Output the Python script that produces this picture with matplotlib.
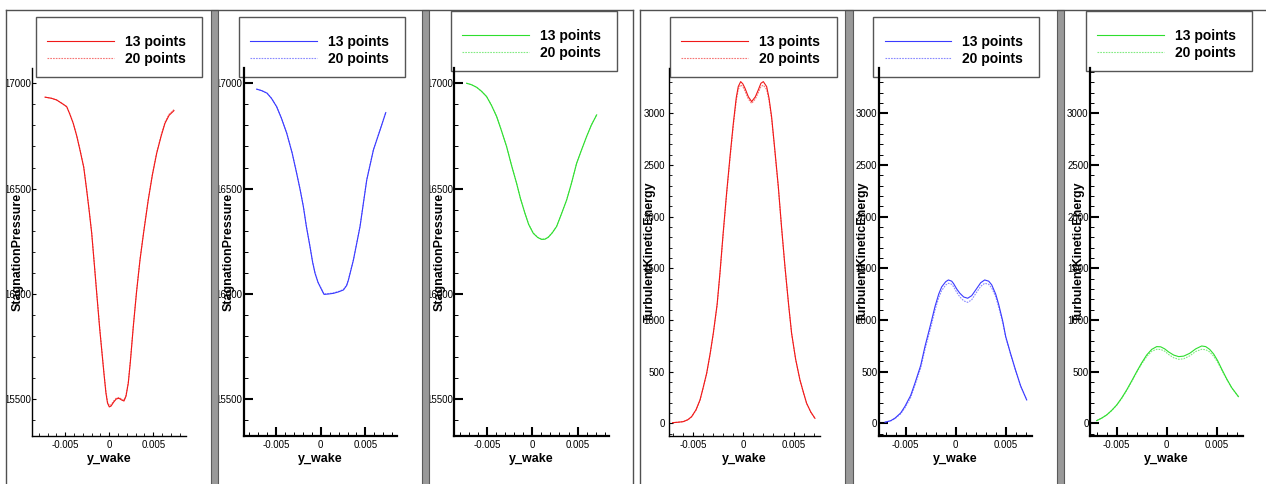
import matplotlib.pyplot as plt
from matplotlib.patches import Rectangle
from matplotlib.lines import Line2D
from matplotlib.ticker import MultipleLocator, FuncFormatter

plt.rcParams['font.family'] = ['Liberation Sans', 'DejaVu Sans']

labels = ['13 points', '20 points']

# stagnation pressure, red frame
y_sp_red = [-0.0073, -0.0066, -0.0060, -0.0054, -0.00484, -0.0045, -0.0041, -0.0037, -0.00333, -0.0029,
            -0.00257, -0.0023, -0.0020, -0.0017, -0.00143, -0.0011, -0.00086, -0.0006, -0.00038, -0.0002,
            0.0, 0.0002, 0.0005, 0.0008, 0.0011, 0.0014, 0.00167, 0.0019, 0.00216, 0.0024, 0.00273,
            0.0031, 0.00349, 0.0039, 0.00443, 0.0049, 0.00539, 0.0059, 0.00633, 0.0068, 0.00735]
sp_red_13 = [16934, 16929, 16921, 16905, 16889, 16855, 16810, 16750, 16683, 16600,
             16493, 16400, 16289, 16140, 16004, 15840, 15734, 15620, 15530, 15482,
             15464, 15468, 15487, 15502, 15505, 15497, 15492, 15515, 15577, 15680, 15845,
             16010, 16161, 16290, 16446, 16565, 16668, 16750, 16810, 16848, 16870]
sp_red_20 = [16934, 16929, 16921, 16905, 16889, 16856, 16812, 16752, 16686, 16603,
             16496, 16403, 16292, 16144, 16008, 15845, 15738, 15625, 15536, 15488,
             15470, 15474, 15492, 15506, 15509, 15501, 15496, 15519, 15580, 15684, 15848,
             16014, 16164, 16294, 16450, 16569, 16672, 16755, 16815, 16853, 16875]

# stagnation pressure, blue frame
y_sp_blue = [-0.00716, -0.0066, -0.0060, -0.0055, -0.00493, -0.0044, -0.0038, -0.0032, -0.00269,
             -0.0023, -0.00194, -0.0016, -0.0012, -0.0009, -0.00063, -0.0003, -0.00007, 0.00037,
             0.0009, 0.00142, 0.002, 0.00254, 0.0029, 0.0031, 0.00366, 0.0044, 0.00515, 0.0059,
             0.00664, 0.00728]
sp_blue_13 = [16972, 16965, 16953, 16928, 16889, 16835, 16763, 16670, 16573,
              16495, 16415, 16320, 16225, 16150, 16098, 16055, 16035, 15998,
              16000, 16003, 16010, 16019, 16040, 16066, 16161, 16320, 16541, 16684,
              16778, 16861]
sp_blue_20 = [16972, 16965, 16953, 16929, 16890, 16836, 16764, 16672, 16575,
              16497, 16417, 16322, 16228, 16152, 16100, 16057, 16037, 16000,
              16002, 16005, 16012, 16021, 16042, 16068, 16163, 16322, 16543, 16686,
              16780, 16862]

# stagnation pressure, green frame
y_sp_green = [-0.00724, -0.0067, -0.00614, -0.0056, -0.00504, -0.0045, -0.00393, -0.0034, -0.00283,
              -0.0023, -0.00173, -0.0013, -0.00081, -0.0004, 0.00011, 0.0006, 0.00103, 0.0014,
              0.00176, 0.0022, 0.00268, 0.0032, 0.00379, 0.0043, 0.00489, 0.0054, 0.00599, 0.0065,
              0.0071]
sp_green_13 = [17000, 16993, 16981, 16962, 16937, 16895, 16842, 16775, 16699,
               16612, 16525, 16452, 16383, 16330, 16288, 16268, 16259, 16260,
               16269, 16290, 16320, 16378, 16446, 16522, 16620, 16680, 16747, 16800,
               16850]
sp_green_20 = [17000, 16993, 16981, 16962, 16937, 16896, 16843, 16776, 16700,
               16613, 16526, 16453, 16384, 16331, 16289, 16269, 16260, 16261,
               16270, 16291, 16321, 16379, 16447, 16523, 16621, 16681, 16748, 16801,
               16851]

# turbulent kinetic energy, red frame
y_tke_red = [-0.00702, -0.0065, -0.00596, -0.0055, -0.00513, -0.0047, -0.0043, -0.0040, -0.00364,
             -0.0033, -0.00298, -0.0026, -0.00232, -0.0020, -0.00166, -0.0013, -0.00099, -0.0007,
             -0.0005, -0.00026, -0.00005, 0.00017, 0.0005, 0.00083, 0.0012, 0.00149, 0.00175,
             0.00199, 0.00232, 0.00255, 0.00281, 0.0031, 0.00348, 0.0038, 0.00414, 0.0045, 0.0048,
             0.0052, 0.00563, 0.0060, 0.00629, 0.0067, 0.00712]
tke_red_13 = [6, 10, 16, 35, 65, 130, 226, 340, 484,
              670, 871, 1150, 1452, 1840, 2226, 2600, 2903, 3150,
              3258, 3306, 3285, 3242, 3160, 3113, 3160, 3226, 3290,
              3306, 3258, 3150, 2968, 2680, 2290, 1900, 1516, 1150, 871,
              620, 419, 290, 194, 110, 48]
tke_red_20 = [6, 10, 16, 34, 62, 126, 220, 334, 478,
              664, 865, 1140, 1440, 1825, 2210, 2580, 2880, 3120,
              3230, 3275, 3258, 3215, 3138, 3095, 3138, 3200, 3258,
              3272, 3230, 3128, 2950, 2665, 2280, 1892, 1510, 1146, 868,
              618, 417, 288, 192, 108, 46]

# turbulent kinetic energy, blue frame
y_tke_blue = [-0.00707, -0.0065, -0.00607, -0.0055, -0.00507, -0.0045, -0.00407, -0.0035, -0.00307,
              -0.0025, -0.00207, -0.0017, -0.0014, -0.0010, -0.00073, -0.0004, -0.0002, 0.0001,
              0.0004, 0.0008, 0.0012, 0.0016, 0.0020, 0.0025, 0.0029, 0.0033, 0.0036, 0.0040,
              0.0043, 0.0047, 0.0050, 0.0055, 0.0060, 0.0065, 0.0071]
tke_blue_13 = [10, 25, 50, 100, 165, 270, 390, 560, 745,
               960, 1130, 1250, 1320, 1370, 1387, 1375, 1350, 1300,
               1260, 1222, 1210, 1235, 1290, 1360, 1387, 1375, 1340, 1250,
               1150, 990, 840, 670, 510, 360, 226]
tke_blue_20 = [10, 23, 45, 92, 150, 250, 370, 535, 715,
               925, 1095, 1215, 1285, 1338, 1355, 1345, 1320, 1268,
               1225, 1185, 1170, 1195, 1255, 1325, 1355, 1345, 1310, 1225,
               1125, 975, 830, 665, 505, 358, 226]

# turbulent kinetic energy, green frame
y_tke_green = [-0.007, -0.0065, -0.006, -0.0055, -0.005, -0.0045, -0.004, -0.0035, -0.003, -0.0025,
               -0.002, -0.0015, -0.001, -0.0006, -0.0002, 0.0002, 0.0007, 0.0012, 0.0017, 0.0023,
               0.0029, 0.0035, 0.0039, 0.0043, 0.0047, 0.0051, 0.0055, 0.006, 0.0065, 0.00717]
tke_green_13 = [26, 50, 81, 125, 177, 245, 323, 410, 500, 585,
                661, 715, 742, 740, 720, 690, 660, 645, 650, 677,
                720, 748, 742, 715, 670, 605, 525, 430, 345, 258]
tke_green_20 = [26, 50, 81, 123, 175, 240, 318, 403, 492, 575,
                645, 697, 716, 714, 698, 665, 634, 619, 624, 652,
                695, 716, 712, 690, 648, 590, 515, 425, 342, 258]

W, H = 1266, 484
fig = plt.figure(figsize=(W / 100, H / 100), dpi=100)


def fx(px):
    return px / W


def fy(py):
    return 1 - py / H


def add_rect(x0, y0, x1, y1, **kw):
    fig.add_artist(Rectangle((fx(x0), fy(y1)), fx(x1) - fx(x0), fy(y0) - fy(y1),
                             transform=fig.transFigure, **kw))


def add_line(xs, ys, **kw):
    fig.add_artist(Line2D([fx(x) for x in xs], [fy(y) for y in ys],
                          transform=fig.transFigure, **kw))


sp_lim = (15326, 17071)
tke_lim = (-123, 3435)

panels = [
    dict(x=y_sp_red, s13=sp_red_13, s20=sp_red_20, color='#f01818', ylabel='StagnationPressure',
         xpx=(32.3, 186), xlim=(-0.00875, 0.00872), ylim=sp_lim,
         legend=(36, 15, 201.7, 79), labx=16.7, thin=True, pad=1),
    dict(x=y_sp_blue, s13=sp_blue_13, s20=sp_blue_20, color='#3a3aff', ylabel='StagnationPressure',
         xpx=(243.7, 396.7), xlim=(-0.00861, 0.0085), ylim=sp_lim,
         legend=(239, 15.3, 405, 79.3), labx=228, thin=False, pad=1),
    dict(x=y_sp_green, s13=sp_green_13, s20=sp_green_20, color='#2ede2e', ylabel='StagnationPressure',
         xpx=(454.3, 609), xlim=(-0.0086, 0.00846), ylim=sp_lim,
         legend=(450.7, 9, 616.7, 73), labx=438.3, thin=False, pad=1),
    dict(x=y_tke_red, s13=tke_red_13, s20=tke_red_20, color='#f01818', ylabel='TurbulentKineticEnergy',
         xpx=(669.3, 820), xlim=(-0.00735, 0.00762), ylim=tke_lim,
         legend=(669.7, 15, 836.7, 79), labx=649, thin=True, pad=3),
    dict(x=y_tke_blue, s13=tke_blue_13, s20=tke_blue_20, color='#3a3aff', ylabel='TurbulentKineticEnergy',
         xpx=(878.7, 1031.7), xlim=(-0.0077, 0.0076), ylim=tke_lim,
         legend=(873.3, 15, 1039.3, 79), labx=862, thin=False, pad=1),
    dict(x=y_tke_green, s13=tke_green_13, s20=tke_green_20, color='#2ede2e', ylabel='TurbulentKineticEnergy',
         xpx=(1090, 1243.3), xlim=(-0.00767, 0.00766), ylim=tke_lim,
         legend=(1085.7, 9, 1251.7, 73), labx=1077.5, thin=False, pad=1),
]


def xfmt(v, pos):
    v = round(v, 6)
    if abs(v) < 1e-9:
        return '0'
    return '%g' % v


for p in panels:
    x0, x1 = p['xpx']
    ax = fig.add_axes([fx(x0), fy(436), fx(x1) - fx(x0), fy(68.3) - fy(436)])
    ax.patch.set_visible(False)
    c = p['color']
    l13, = ax.plot(p['x'], p['s13'], color=c, lw=0.8)
    l20, = ax.plot(p['x'], p['s20'], color=c, lw=0.8, ls=(0, (1.5, 1.0)), alpha=0.6)
    ax.set_xlim(p['xlim'])
    ax.set_ylim(p['ylim'])

    ax.spines['top'].set_visible(False)
    ax.spines['right'].set_visible(False)
    alw = 1.0 if p['thin'] else 1.6
    ax.spines['left'].set_linewidth(alw)
    ax.spines['bottom'].set_linewidth(alw)

    ax.xaxis.set_major_locator(MultipleLocator(0.005))
    ax.xaxis.set_minor_locator(MultipleLocator(0.001))
    ax.yaxis.set_major_locator(MultipleLocator(500))
    ax.yaxis.set_minor_locator(MultipleLocator(100))
    ax.xaxis.set_major_formatter(FuncFormatter(xfmt))
    ax.yaxis.set_major_formatter(FuncFormatter(lambda v, pos: '%d' % round(v)))

    if p['thin']:
        ax.tick_params(which='major', direction='in', length=3, width=0.8, labelsize=7)
        ax.tick_params(which='minor', direction='in', length=2.2, width=0.6)
    else:
        ax.tick_params(which='major', direction='in', length=6.5, width=1.5, labelsize=7)
        ax.tick_params(which='minor', direction='in', length=3.2, width=0.7)
    ax.tick_params(axis='x', which='major', pad=3)
    ax.tick_params(axis='y', which='major', pad=p['pad'])

    ax.set_xlabel('y_wake', fontsize=9, fontweight='bold')
    ax.xaxis.set_label_coords(fx((x0 + x1) / 2), fy(452.6), transform=fig.transFigure)
    ax.set_ylabel(p['ylabel'], fontsize=9, fontweight='bold')
    ax.yaxis.set_label_coords(fx(p['labx'] + 7), fy(252), transform=fig.transFigure)

    lx0, ly0, lx1, ly1 = p['legend']
    leg = ax.legend([l13, l20], labels, loc='center',
                    bbox_to_anchor=(fx(lx0), fy(ly1), fx(lx1) - fx(lx0), fy(ly0) - fy(ly1)),
                    bbox_transform=fig.transFigure, mode='expand', borderaxespad=0,
                    prop={'weight': 'bold', 'size': 10}, title=' ', title_fontsize=3,
                    frameon=True, fancybox=False, edgecolor='#555555', framealpha=1,
                    handlelength=4.8, handletextpad=0.8, borderpad=0.81, labelspacing=0.2)
    leg.get_frame().set_linewidth(1.0)
    leg.set_zorder(2)

# frame borders and separators
add_rect(0, 0, W, 9.6, facecolor='white', edgecolor='none', zorder=20)
add_rect(0, 0, 5.6, H, facecolor='white', edgecolor='none', zorder=20)
add_rect(633.5, 0, 639.6, H, facecolor='white', edgecolor='none', zorder=20)
for gx0, gx1 in [(210.5, 217.5), (422, 429), (845, 852.5), (1057, 1063.5)]:
    add_rect(gx0, 10, gx1, H + 2, facecolor='#999999', edgecolor='#5a5a5a', lw=0.8, zorder=21)
add_line([6, 633], [10, 10], color='#505050', lw=1.0, zorder=22)
add_line([640, W], [10, 10], color='#505050', lw=1.0, zorder=22)
for vx in [6, 633, 640]:
    add_line([vx, vx], [10, H + 2], color='#505050', lw=1.0, zorder=22)

fig.savefig('out.png', dpi=100)
